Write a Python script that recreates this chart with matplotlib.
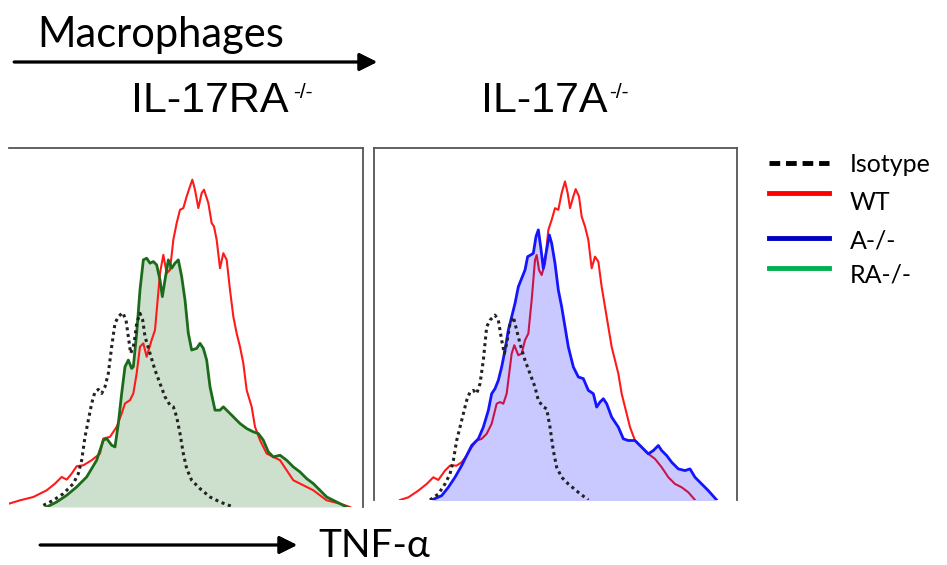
import numpy as np
import matplotlib
matplotlib.use("Agg")
import matplotlib.pyplot as plt
from matplotlib.lines import Line2D

# ---- left panel (IL-17RA-/-), x = TNF-a channel, y = counts ----
wt_l_x = [27, 60, 100, 140, 165, 185, 200, 215, 230, 250, 275, 300, 310, 330, 350, 365, 375, 390, 400, 410,
          420, 430, 440, 455, 465, 480, 490, 500, 510, 520, 530, 540, 550, 560, 570, 577, 585, 595, 605, 612,
          625, 635, 642, 650, 660, 670, 680, 690, 700, 710, 720, 730, 740, 755, 765, 780, 800, 820, 840, 860,
          880, 900, 920, 940, 960, 980, 1000, 1020, 1050]
wt_l_y = [10, 20, 30, 50, 70, 90, 82, 100, 122, 125, 140, 160, 205, 210, 240, 280, 310, 320, 340, 400,
          480, 490, 450, 500, 530, 700, 755, 700, 710, 800, 850, 890, 895, 930, 960, 980, 950, 895, 940, 950,
          910, 850, 840, 800, 715, 760, 740, 650, 570, 520, 480, 430, 350, 300, 240, 200, 160, 150, 140, 110,
          80, 70, 60, 50, 35, 20, 15, 10, 0]

ra_x = [140, 170, 200, 230, 260, 290, 310, 320, 335, 345, 355, 365, 375, 385, 395, 400, 410, 420, 430, 440,
        450, 460, 470, 480, 487, 495, 505, 515, 525, 535, 545, 555, 565, 575, 590, 600, 610, 620, 630, 645,
        660, 670, 680, 700, 720, 740, 760, 775, 790, 805, 820, 840, 860, 880, 900, 920, 940, 960, 980, 1000,
        1020, 1040]
ra_y = [0, 15, 35, 60, 90, 140, 200, 205, 185, 180, 250, 340, 420, 440, 415, 420, 520, 650, 740, 745,
        730, 735, 725, 680, 630, 680, 740, 715, 730, 740, 690, 620, 520, 470, 475, 490, 475, 440, 360, 290,
        290, 300, 290, 270, 250, 235, 225, 220, 200, 165, 150, 155, 140, 120, 105, 85, 70, 50, 30, 20,
        10, 0]

iso_l_x = [130, 160, 190, 220, 235, 245, 255, 265, 275, 285, 295, 305, 315, 325, 335, 345, 355, 368, 378, 385,
           392, 400, 405, 410, 420, 428, 435, 450, 465, 480, 495, 510, 520, 530, 540, 550, 560, 575, 600, 630,
           660, 700]
iso_l_y = [5, 20, 40, 70, 100, 140, 210, 260, 310, 345, 352, 340, 360, 400, 480, 550, 570, 582, 560, 510,
           460, 480, 510, 550, 580, 560, 510, 460, 410, 370, 330, 305, 300, 270, 220, 160, 115, 80, 55, 30,
           15, 0]

# ---- right panel (IL-17A-/-) ----
wt_r_x = [105, 130, 160, 185, 205, 220, 240, 255, 275, 290, 305, 320, 335, 350, 365, 380, 395, 405, 415, 425,
          435, 440, 448, 460, 470, 480, 490, 500, 510, 515, 522, 530, 540, 550, 560, 570, 580, 590, 600, 608,
          615, 625, 632, 642, 650, 660, 670, 680, 690, 700, 710, 720, 730, 740, 750, 760, 770, 780, 795, 810,
          830, 850, 870, 890, 910, 930, 950, 970, 990]
wt_r_y = [22, 30, 50, 70, 90, 82, 110, 125, 125, 135, 155, 180, 200, 205, 220, 250, 310, 315, 310, 340,
          420, 460, 485, 455, 460, 500, 520, 620, 740, 755, 710, 695, 730, 830, 860, 895, 890, 940, 975, 940,
          895, 930, 952, 930, 870, 840, 800, 715, 750, 735, 660, 600, 540, 480, 440, 400, 340, 300, 240, 200,
          180, 160, 145, 120, 90, 70, 60, 45, 22]

a_x = [200, 230, 250, 270, 290, 305, 320, 340, 355, 370, 380, 390, 400, 410, 420, 430, 440, 450, 460, 470,
       480, 488, 497, 505, 513, 520, 527, 535, 543, 553, 560, 570, 580, 590, 600, 610, 625, 640, 655, 670,
       685, 695, 705, 715, 725, 740, 760, 775, 790, 810, 830, 850, 865, 880, 890, 905, 920, 940, 960, 975,
       990, 1010, 1030, 1055]
a_y = [22, 35, 60, 90, 125, 155, 185, 205, 240, 290, 340, 355, 380, 420, 470, 530, 570, 610, 660, 685,
       710, 750, 755, 760, 810, 830, 780, 715, 760, 815, 790, 730, 650, 600, 540, 480, 420, 390, 385, 350,
       340, 300, 315, 325, 310, 270, 240, 205, 200, 200, 180, 160, 170, 185, 170, 155, 135, 115, 110, 115,
       90, 70, 50, 22]

iso_r_x = [195, 220, 240, 255, 265, 275, 285, 295, 305, 315, 325, 335, 345, 355, 365, 375, 390, 400, 410, 418,
           425, 435, 445, 455, 465, 480, 495, 510, 520, 535, 545, 555, 565, 575, 590, 610, 640, 670]
iso_r_y = [22, 40, 70, 100, 140, 200, 240, 280, 320, 345, 350, 340, 370, 440, 540, 560, 575, 560, 500, 460,
           490, 550, 570, 530, 490, 440, 400, 360, 320, 300, 295, 240, 170, 120, 90, 70, 45, 22]

legend_labels = ["Isotype", "WT", "A-/-", "RA-/-"]
legend_colors = ["black", "#ff0000", "#0000c0", "#00b050"]

RED = "#ff1a1a"
ISO = "#222222"
SPINE = "#555555"
W, H = 947, 565


def fx(px):
    return px / W


def fy(py):
    return 1 - py / H


fig = plt.figure(figsize=(9.47, 5.65), dpi=100)

# left panel
ax1 = fig.add_axes([fx(9), fy(507), 354 / W, 359 / H])
ax1.fill_between(ra_x, ra_y, 0, color="#cde0cd", lw=0, zorder=1)
ax1.plot(wt_l_x, wt_l_y, color=RED, lw=1.5, zorder=2)
ax1.plot(ra_x, ra_y, color="#1b6b1b", lw=2, zorder=3)
ax1.plot(iso_l_x, iso_l_y, color=ISO, lw=2.2, ls=(0, (1, 1.2)), zorder=4)
ax1.set_xlim(27, 1089)
ax1.set_ylim(0, 1075)

# right panel
ax2 = fig.add_axes([fx(374), fy(500), 363 / W, 352 / H])
ax2.plot(wt_r_x, wt_r_y, color=RED, lw=1.5, zorder=2)
ax2.fill_between(a_x, a_y, 0, color="#0000ff", alpha=0.21, lw=0, zorder=3)
ax2.plot(a_x, a_y, color="#1414ff", lw=2, zorder=4)
ax2.plot(iso_r_x, iso_r_y, color=ISO, lw=2.2, ls=(0, (1, 1.2)), zorder=5)
ax2.set_xlim(27, 1116)
ax2.set_ylim(22, 1075)

for ax in (ax1, ax2):
    ax.set_xticks([])
    ax.set_yticks([])
    ax.spines["bottom"].set_visible(False)
    for s in ("top", "right", "left"):
        ax.spines[s].set_color(SPINE)
        ax.spines[s].set_linewidth(1.3)
ax1.spines["left"].set_visible(False)

# legend, drawn by hand so the rows sit like the original
line_rows = [163, 193, 238, 268]
text_rows = [165, 203, 241, 275]
for i, lab in enumerate(legend_labels):
    ls = (0, (2.2, 1.2)) if i == 0 else "-"
    fig.add_artist(Line2D([fx(769), fx(829)], [fy(line_rows[i])] * 2, color=legend_colors[i],
                          lw=3.5, ls=ls, transform=fig.transFigure))
    fig.text(fx(850), fy(text_rows[i]), lab, family="Lato", fontsize=18, va="center")

# titles and arrows
fig.text(fx(37), fy(47), "Macrophages", family="Lato", fontsize=30, va="baseline")
fig.text(fx(131), fy(112), "IL-17RA", family="Liberation Sans", fontsize=31, va="baseline")
fig.text(fx(293), fy(98), "-/-", family="Liberation Sans", fontsize=15, va="baseline")
fig.text(fx(481), fy(112), "IL-17A", family="Liberation Sans", fontsize=31, va="baseline")
fig.text(fx(609), fy(98), "-/-", family="Liberation Sans", fontsize=15, va="baseline")
fig.text(fx(318), fy(564), "TNF-\u03b1", family="Lato", fontsize=28, va="bottom")

arrow = dict(arrowstyle="-|>,head_length=0.6,head_width=0.3", lw=2, color="black",
             mutation_scale=18, shrinkA=0, shrinkB=0)
fig.add_artist(plt.annotate("", xy=(377, H - 62), xytext=(14, H - 62),
                            xycoords="figure pixels", textcoords="figure pixels", arrowprops=arrow))
fig.add_artist(plt.annotate("", xy=(297, H - 545), xytext=(40, H - 545),
                            xycoords="figure pixels", textcoords="figure pixels", arrowprops=arrow))

fig.savefig("out.png", dpi=100)
